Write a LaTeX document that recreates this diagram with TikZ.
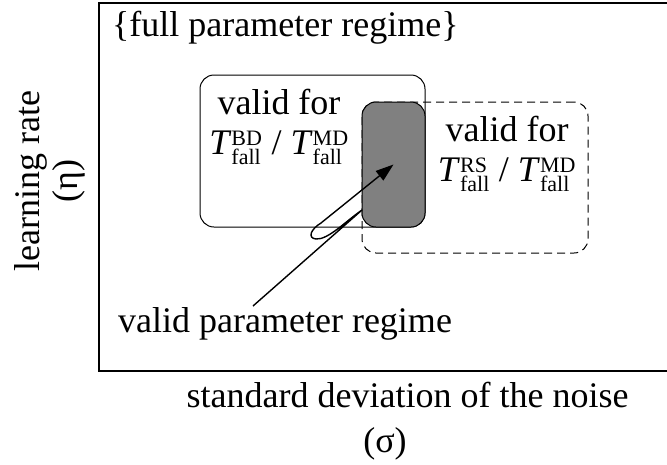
\documentclass[tikz,border=0pt]{standalone}
\usepackage{amsmath}
\usepackage{fontspec}
\setmainfont{Liberation Serif}
\usetikzlibrary{arrows.meta, positioning}
\DeclareMathSizes{36}{36}{22}{18}
\newcommand{\Tfall}[1]{\textit{T}$^{\text{#1}}_{\text{fall}}$}

\begin{document}
\begin{tikzpicture} [x = 1pt, y = -1pt,
        txt/.style = {font = \fontsize{36}{40}\selectfont, inner sep = 0pt, align = center},
        regime/.style = {draw, line width = 1pt, rounded corners = 14pt, inner sep = 0pt}]
        \clip (0,0) rectangle (667,464);
        \draw [line width = 1.4pt] (99,3) rectangle (700,371);
        \node (full) [txt, anchor = base west] at (112,36) {\{full parameter regime\}};

        % the three regions
        \node (bd) [regime, minimum width = 225pt, minimum height = 152pt] at (312.5,151) {};
        \node (rs) [regime, dash pattern = on 8pt off 5pt, minimum width = 226pt, minimum height = 151pt] at (475,177.5) {};
        \node (core) [regime, fill = gray, minimum width = 63pt, minimum height = 125pt] at (393.5,164.5) {};

        \node (bdtxt) [txt] at (279,127) {valid for\\ \Tfall{BD} / \Tfall{MD}};
        \node (rstxt) [txt] at (507,154) {valid for\\ \Tfall{RS} / \Tfall{MD}};

        \node (vpr) [txt, anchor = base] at (285,332) {valid parameter regime};
        \coordinate (tail) at (253,306);
        \draw [line width = 1.4pt, line join = round, -{Triangle[length = 18pt, width = 12pt]}]
            (tail) -- (362,210) .. controls (346,221) and (328,240) .. (316,239)
            .. controls (307,238) and (311,229) .. (321,223) -- (core.center);

        % axis labels
        \node (eta) [txt, rotate = 90, font = \fontsize{36}{38}\selectfont] at (50,181) {learning rate\\(η)};
        \node (noise) [txt, anchor = base] at (407.5,407) {standard deviation of the noise};
        \node (sigma) [txt, anchor = base] at ([xshift = -22.5pt, yshift = -45pt]noise.base) {(σ)};
\end{tikzpicture}
\end{document}
